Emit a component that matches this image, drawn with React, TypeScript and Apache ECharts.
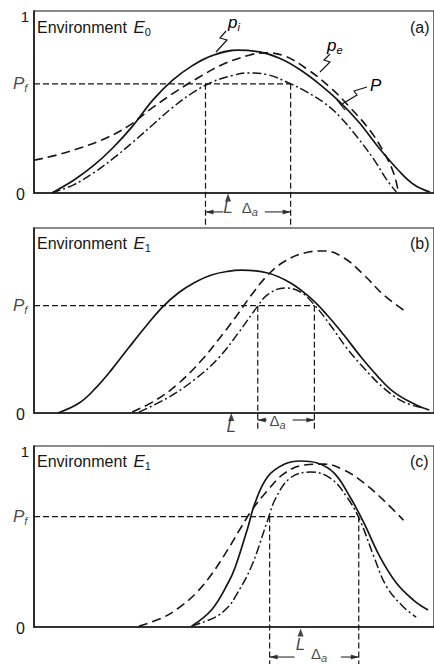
import React, { useEffect, useRef } from "react";
import * as echarts from "echarts";

// ---------- data (x: position along the axis 0..101, y: probability 0..1) ----------
const X_MAX = 101;

// (a) Environment E0
const A_PI = [[4.5,0],[10,0.07],[15,0.15],[20,0.25],[25,0.37],[30,0.51],[35,0.62],[40,0.7],[45,0.755],[51.5,0.785],[57,0.775],[62,0.74],[67,0.68],[72,0.6],[77,0.505],[82,0.39],[87,0.25],[92,0.125],[96,0.045],[100,0.005]];
const A_PE = [[0,0.18],[6,0.21],[12,0.25],[18,0.3],[24,0.37],[30,0.47],[36,0.56],[42,0.64],[48,0.71],[54,0.755],[58,0.77],[63,0.755],[69,0.68],[74.8,0.58],[79.8,0.47],[84.8,0.345],[88.3,0.225],[90.8,0.11],[92,0.005]];
const A_P = [[4.5,0],[10,0.045],[15,0.11],[20,0.19],[25,0.28],[30,0.375],[35,0.47],[40,0.55],[45,0.61],[50,0.645],[54,0.66],[59,0.65],[64.8,0.6],[68.3,0.562],[73.3,0.495],[77.3,0.418],[81.5,0.31],[85.8,0.185],[89,0.075],[91.5,0.005]];
const A_PF = 0.6;
const A_CUTS = [43.3, 64.8];
const A_L = 49;

// (b) Environment E1
const B_PI = [[6,0],[11.5,0.055],[15.8,0.14],[19.8,0.24],[24,0.355],[28.3,0.47],[32.3,0.57],[36.5,0.65],[40.8,0.708],[44.8,0.746],[49,0.766],[52.3,0.772],[59,0.757],[64.8,0.703],[69.8,0.622],[74,0.53],[78.3,0.42],[82.3,0.31],[86.5,0.205],[90.8,0.114],[96.5,0.043],[99.8,0.016]];
const B_PE = [[24.8,0.005],[30.8,0.07],[36.5,0.16],[42.3,0.285],[46.5,0.395],[50.8,0.515],[54.8,0.635],[59,0.745],[63.3,0.82],[68.3,0.865],[73.3,0.876],[78.3,0.838],[83.3,0.746],[88.3,0.638],[94,0.546]];
const B_P = [[26.5,0.005],[34,0.085],[40.8,0.185],[46.5,0.295],[51.5,0.43],[56.5,0.578],[59,0.64],[63.3,0.676],[67.3,0.654],[70.8,0.584],[74.8,0.476],[79,0.35],[83.3,0.243],[88.3,0.135],[93.3,0.06],[98.3,0.027]];
const B_PF = 0.58;
const B_CUTS = [56.5, 70.8];
const B_L = 49.8;

// (c) Environment E1
const C_PI = [[39.8,0.005],[44.8,0.094],[49,0.243],[50.8,0.33],[54,0.55],[55.8,0.685],[59,0.83],[63.3,0.9],[67.3,0.917],[71.5,0.906],[75.8,0.85],[79.8,0.718],[83.3,0.575],[87.3,0.39],[91.5,0.243],[95.8,0.149],[99.5,0.094]];
const C_PE = [[26.5,0.005],[32.3,0.05],[36.5,0.105],[40.8,0.185],[44.8,0.29],[49,0.43],[52,0.54],[55,0.645],[59,0.755],[63.3,0.85],[68.3,0.895],[73.3,0.9],[78.3,0.867],[83.3,0.796],[88.3,0.7],[93.3,0.59]];
const C_P = [[39.8,0.005],[45.8,0.055],[49,0.11],[50.8,0.166],[54.8,0.33],[59,0.59],[61,0.71],[64.8,0.825],[69.8,0.856],[74.8,0.823],[79,0.718],[82.3,0.59],[85.8,0.39],[89,0.225],[93.3,0.11],[96.5,0.055]];
const C_PF = 0.61;
const C_CUTS = [59.5, 82];
const C_L = 67.3;

const ENV_SUBS = ["0", "1", "1"];
const TAGS = ["a", "b", "c"];

// ---------- layout & style ----------
const INK = "#161616";
const FONT = "Liberation Sans, Arial, sans-serif";

const LAYOUT = [
  { top: 11, height: 182, showOne: true, titleY: 27, cutBottom: -0.18, lTri: -0.025, lTxt: -0.08, daY: -0.104, daTxt: [54.5, -0.077], daL: 47.8, daR: 58.3 },
  { top: 228, height: 185, showOne: false, titleY: 243, cutBottom: -0.1, lTri: -0.022, lTxt: -0.072, daY: -0.038, daTxt: [61.5, -0.04], daL: 58.8, daR: 65.3 },
  { top: 446, height: 181, showOne: true, titleY: 461, cutBottom: -0.21, lTri: -0.03, lTxt: -0.095, daY: -0.166, daTxt: [72, -0.146], daL: 65.8, daR: 77.5 },
];

const SOLID = { color: INK, width: 1.7, type: "solid" as any };
const DASH = { color: INK, width: 1.6, type: [9, 5] as any };
const DASHDOT = { color: INK, width: 1.5, type: [9, 3, 2, 3] as any };
const GUIDE = { color: INK, width: 1.2, type: [6, 3] as any };
const THIN = { color: INK, width: 1, type: "solid" as any };

const rich: any = {
  it: { fontStyle: "italic", fontSize: 17, fontFamily: FONT, color: INK, lineHeight: 20 },
  s: { fontSize: 11, fontFamily: FONT, color: INK, lineHeight: 12, verticalAlign: "bottom" },
  si: { fontSize: 11, fontStyle: "italic", fontFamily: FONT, color: INK, lineHeight: 12, verticalAlign: "bottom" },
  n: { fontSize: 16, fontFamily: FONT, color: INK, lineHeight: 20 },
  d: { fontSize: 15, fontFamily: FONT, color: INK, lineHeight: 20 },
};

export default function App() {
  const ref = useRef<HTMLDivElement>(null);
  useEffect(() => {
    document.body.style.margin = "0";
    const chart = echarts.init(ref.current!, undefined, { renderer: "svg" });
    const curves = [
      [A_PI, A_PE, A_P],
      [B_PI, B_PE, B_P],
      [C_PI, C_PE, C_P],
    ];
    const pfs = [A_PF, B_PF, C_PF];
    const cuts = [A_CUTS, B_CUTS, C_CUTS];
    const ls = [A_L, B_L, C_L];

    const grid: any[] = [];
    const xAxis: any[] = [];
    const yAxis: any[] = [];
    const series: any[] = [];
    const graphic: any[] = [];

    LAYOUT.forEach((lay, i) => {
      grid.push({
        left: 34, right: -4, top: lay.top, height: lay.height,
        show: true, borderColor: INK, borderWidth: 1.2, backgroundColor: "transparent",
      });
      xAxis.push({
        type: "value", gridIndex: i, min: 0, max: X_MAX,
        axisLine: { show: true, onZero: false, lineStyle: { color: INK, width: 1.5 } },
        axisTick: { show: false }, axisLabel: { show: false }, splitLine: { show: false },
      });
      yAxis.push({
        type: "value", gridIndex: i, min: 0, max: 1, interval: 1,
        axisLine: { show: true, lineStyle: { color: INK, width: 1.5 } },
        axisTick: { show: false }, splitLine: { show: false },
        axisLabel: {
          margin: 5,
          formatter: (v: number) => (v === 1 ? (lay.showOne ? "{one|1}" : "") : "{zero|0}"),
          rich: {
            one: { fontSize: 15, fontFamily: FONT, color: INK, padding: [10, 0, 0, 0] },
            zero: { fontSize: 16, fontFamily: FONT, color: INK, padding: [2, 4, 0, 0] },
          },
        },
      });

      const line = (data: any[], style: any, extra: any = {}) =>
        series.push({
          type: "line", xAxisIndex: i, yAxisIndex: i, data, showSymbol: false, symbol: "none",
          lineStyle: style, silent: true, ...extra,
        });

      const [pi, pe, p] = curves[i];
      line(pi, SOLID, { smooth: 0.4 });
      line(pe, DASH, { smooth: 0.4 });
      line(p, DASHDOT, { smooth: 0.4 });

      const pf = pfs[i];
      const [c1, c2] = cuts[i];
      // threshold P_f and the two cuts where P crosses it
      line([[0, pf], [c2, pf]], GUIDE, { clip: false });
      line([[c1, pf], [c1, lay.cutBottom]], GUIDE, { clip: false });
      line([[c2, pf], [c2, lay.cutBottom]], GUIDE, { clip: false });
      // Δa dimension arrows
      line([[lay.daL, lay.daY], [c1, lay.daY]], THIN, { clip: false });
      line([[lay.daR, lay.daY], [c2, lay.daY]], THIN, { clip: false });
      series.push({
        type: "scatter", xAxisIndex: i, yAxisIndex: i, clip: false, silent: true,
        symbol: "triangle", symbolSize: [5, 8], itemStyle: { color: INK },
        data: [
          { value: [c1, lay.daY], symbolRotate: 90, symbolOffset: [4, 0] },
          { value: [c2, lay.daY], symbolRotate: -90, symbolOffset: [-4, 0] },
          { value: [ls[i], lay.lTri], symbolSize: [6, 8] },
        ],
      });

      // text annotations tied to data positions
      series.push({
        type: "scatter", xAxisIndex: i, yAxisIndex: i, clip: false, silent: true,
        symbol: "circle", symbolSize: 1, itemStyle: { color: "rgba(0,0,0,0)" },
        label: { show: true, position: "inside", rich, color: INK },
        data: [
          { value: [-3.5, pf], label: { formatter: "{it|P}{si|f}" } },
          { value: [ls[i], lay.lTxt], label: { formatter: "{it|L}" } },
          { value: lay.daTxt, label: { formatter: "{d|Δ}{si|a}" } },
        ],
      });

      graphic.push({
        type: "text", x: 37, y: lay.titleY,
        style: {
          text: `{n|Environment}  {it|E}{s|${ENV_SUBS[i]}}`, rich,
          verticalAlign: "middle", fill: INK,
        },
      });
      graphic.push({
        type: "text", x: 410, y: lay.titleY,
        style: { text: `{n|(${TAGS[i]})}`, rich, verticalAlign: "middle", fill: INK },
      });
    });

    // curve labels and their leaders in panel (a)
    graphic.push(
      { type: "text", x: 228, y: 22, style: { text: "{it|p}{si|i}", rich, verticalAlign: "middle" } },
      { type: "text", x: 327, y: 45, style: { text: "{it|p}{si|e}", rich, verticalAlign: "middle" } },
      { type: "text", x: 370, y: 85, style: { text: "{it|P}", rich, verticalAlign: "middle" } },
      { type: "polyline", shape: { points: [[226, 31], [220, 38], [227, 40], [216, 52]] }, style: { stroke: INK, lineWidth: 1.2, fill: "none" } },
      { type: "polyline", shape: { points: [[330, 54], [324, 60], [330, 62], [320, 72]] }, style: { stroke: INK, lineWidth: 1.2, fill: "none" } },
      { type: "polyline", shape: { points: [[367, 87], [354, 91], [357, 95], [342, 104]] }, style: { stroke: INK, lineWidth: 1.2, fill: "none" } },
      { type: "line", shape: { x1: 337, y1: 100, x2: 345, y2: 110 }, style: { stroke: INK, lineWidth: 1.2 } },
    );

    chart.setOption({
      animation: false,
      backgroundColor: "#ffffff",
      textStyle: { fontFamily: FONT },
      grid, xAxis, yAxis, series, graphic,
    });
    return () => chart.dispose();
  }, []);
  return <div ref={ref} style={{ position: "absolute", left: 0, top: 0, width: 434, height: 664 }} />;
}
